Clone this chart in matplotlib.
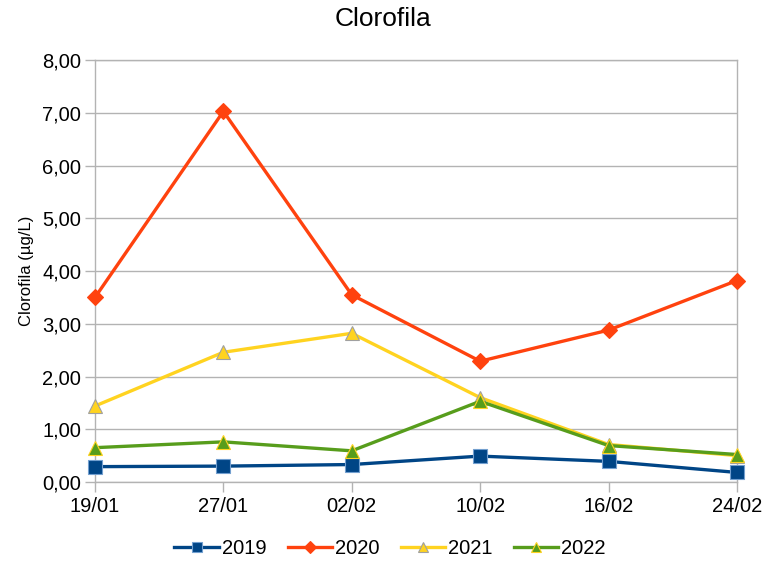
#!/usr/bin/python
"""
    Line chart of chlorophyll concentration per sampling date and year
"""

import matplotlib
matplotlib.use('Agg')
import matplotlib.pyplot as plt
from matplotlib.ticker import FuncFormatter, MultipleLocator

# sampling dates and measured values (ug/L)
dates = ['19/01', '27/01', '02/02', '10/02', '16/02', '24/02']
years = ['2019', '2020', '2021', '2022']
val_2019 = [0.29, 0.30, 0.33, 0.49, 0.39, 0.18]
val_2020 = [3.50, 7.03, 3.55, 2.29, 2.88, 3.82]
val_2021 = [1.44, 2.46, 2.82, 1.60, 0.71, 0.50]
val_2022 = [0.65, 0.76, 0.59, 1.53, 0.69, 0.52]

plt.rcParams['font.family'] = ['Liberation Sans', 'DejaVu Sans']

fig = plt.figure(figsize=(7.66, 5.63), dpi=100)
ax = fig.add_axes([0.124, 0.144, 0.838, 0.749])

xpos = list(range(len(dates)))
grid_col = '#b3b3b3'

# series styles: values, colour, marker, marker size, marker edge colour
styles = [
    (val_2019, '#004586', 's', 10, '#729fcf'),
    (val_2020, '#ff420e', 'D', 8, '#ff420e'),
    (val_2021, '#ffd320', '^', 10, '#a0a0a0'),
    (val_2022, '#579d1c', '^', 10, '#ffd320'),
]
for i, (vals, col, mk, ms, mec) in enumerate(styles):
    ax.plot(xpos, vals, color=col, linewidth=2.4, marker=mk,
            markersize=ms, markerfacecolor=col, markeredgecolor=mec,
            markeredgewidth=0.8, label=years[i], zorder=3 + i,
            clip_on=False)

ax.set_xlim(0, len(dates) - 1)
ax.set_ylim(0, 8)
ax.set_xticks(xpos)
ax.set_xticklabels(dates)
ax.yaxis.set_major_locator(MultipleLocator(1.0))
ax.yaxis.set_major_formatter(
    FuncFormatter(lambda v, pos: ('%.2f' % v).replace('.', ',')))
ax.tick_params(axis='both', labelsize=14.5, color=grid_col, length=7,
               width=1)
ax.tick_params(axis='x', pad=4)
ax.tick_params(axis='y', pad=3)
ax.grid(True, axis='y', color=grid_col, linewidth=1)
ax.set_axisbelow(True)
for side in ['left', 'right', 'top', 'bottom']:
    ax.spines[side].set_color(grid_col)
    ax.spines[side].set_linewidth(1)

ax.set_ylabel('Clorofila (µg/L)', fontsize=12, labelpad=6)
fig.suptitle('Clorofila', fontsize=19, y=0.988)

fig.legend(loc='center', bbox_to_anchor=(0.509, 0.025), ncol=4,
           frameon=False, fontsize=14.5, handlelength=2.2,
           columnspacing=1.05, handletextpad=0.15, markerscale=0.75)

fig.savefig('out.png', dpi=100)
